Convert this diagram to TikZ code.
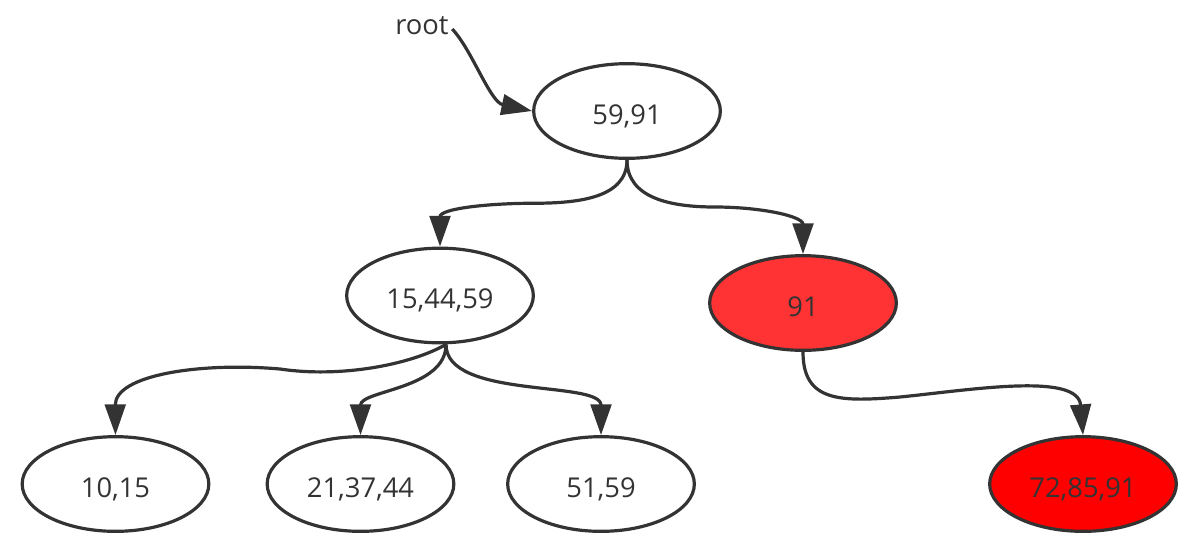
\documentclass[tikz,border=0pt]{standalone}
\usepackage{fontspec}
\setmainfont{Open Sans}
\usetikzlibrary{shapes.geometric,arrows.meta,calc}
\definecolor{ink}{HTML}{333333}
\definecolor{redA}{HTML}{FF3333}
\definecolor{redB}{HTML}{FF0000}
\begin{document}
\begin{tikzpicture}[x=0.75pt,y=-0.75pt,
  tnode/.style={ellipse, draw=ink, line width=2.4pt, minimum width=140pt, minimum height=71pt,
    inner sep=0pt, text=ink, text height=19.8pt, text depth=0pt, font=\fontsize{20.5}{24}\selectfont},
  conn/.style={draw=ink, line width=2.4pt, -{Triangle[length=23pt,width=15.5pt]}},
  lbl/.style={text=ink, inner sep=1pt, font=\fontsize{20.5}{24}\selectfont}]
\useasboundingbox (0,0) rectangle (1199,558);
\node[tnode] (r) at (627,111) {59,91};
\node[tnode] (a) at (440,295.5) {15,44,59};
\node[tnode, fill=redA] (b) at (803,303) {91};
\node[tnode] (c) at (115.5,484) {10,15};
\node[tnode] (d) at (360.5,484) {21,37,44};
\node[tnode] (e) at (601,484) {51,59};
\node[tnode, fill=redB] (f) at (1083,484) {72,85,91};
\node[lbl] (root) at (422,26) {root};
\coordinate (as) at ($(a.south)+(6,0)$);
% root pointer
\draw[conn] ($(root.east)+(2,3)$) .. controls (472,50) and (490,102) .. (r.west);
% level 1
\draw[conn] (r.south) .. controls +(0,38) and +(45,0) .. ($(r.south)!0.5!(a.north)$)
  .. controls +(-45,0) and +(0,-38) .. (a.north);
\draw[conn] (r.south) .. controls +(0,38) and +(-45,0) .. ($(r.south)!0.5!(b.north)$)
  .. controls +(45,0) and +(0,-38) .. (b.north);
% level 2
\draw[conn] (as) .. controls (410,365) and (340,378) .. (280,369)
  .. controls (200,362) and (115,375) .. (c.north);
\draw[conn] (as) .. controls +(0,45) and +(0,-45) .. (d.north);
\draw[conn] (as) .. controls +(0,55) and +(0,-55) .. (e.north);
\draw[conn] (b.south) .. controls +(0,50) and (840,402) .. (900,397)
  .. controls (970,390) and (1078,372) .. (f.north);
\end{tikzpicture}
\end{document}
